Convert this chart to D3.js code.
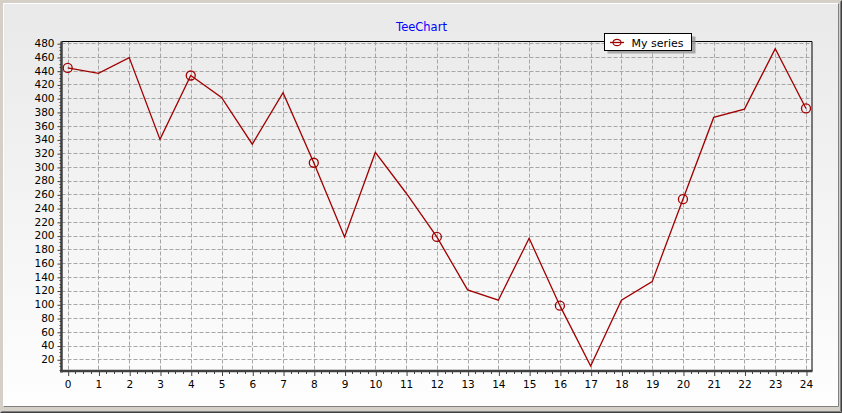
<!DOCTYPE html>
<html><head><meta charset="utf-8">
<script src="https://cdn.jsdelivr.net/npm/d3@7"></script>
<style>html,body{margin:0;padding:0;background:#d4d0c8;}svg{display:block;}</style>
</head><body>
<script>
const categories = d3.range(0, 25);
const values = [444, 436, 459, 340, 433, 401, 333, 408, 306, 198, 321, 262, 198, 121, 106, 196, 98, 10, 106, 133, 253, 372, 384, 472, 385];
const yTicks = d3.range(20, 481, 20);
const seriesName = "My series";
const title = "TeeChart";

const W = 842, H = 413;
const plot = {left: 61.5, right: 812, top: 41.5, bottom: 371};
const svg = d3.select("body").append("svg").attr("width", W).attr("height", H);
const defs = svg.append("defs");
const g1 = defs.append("linearGradient").attr("id","bg").attr("x1",0).attr("y1",0).attr("x2",0).attr("y2",1);
g1.append("stop").attr("offset","0%").attr("stop-color","#e9e9e9");
g1.append("stop").attr("offset","100%").attr("stop-color","#fefefe");

// frame
svg.append("rect").attr("width",W).attr("height",H).attr("fill","#d4d0c8");
svg.append("rect").attr("x",3).attr("y",3).attr("width",836).attr("height",404).attr("fill","url(#bg)");
svg.append("path").attr("d","M3.5,406.5V3.5H838.5").attr("fill","none").attr("stroke","#ffffff");
svg.append("path").attr("d","M3.5,406.5H838.5V3.5").attr("fill","none").attr("stroke","#808080");
svg.append("path").attr("d","M0.5,412.5H841.5V0.5").attr("fill","none").attr("stroke","#404040");
svg.append("path").attr("d","M1.5,411.5H840.5V1.5").attr("fill","none").attr("stroke","#808080");

const x = d3.scaleLinear().domain([0, 24]).range([67.7, 806]);
const y = d3.scaleLinear().domain([0, 480]).range([373, 43.2]);

// grid
const grid = svg.append("g").attr("stroke","#a6a6a6").attr("stroke-dasharray","4,2").attr("stroke-width",1);
categories.forEach(c => {
  const px = Math.round(x(c)) + 0.5;
  grid.append("line").attr("x1",px).attr("x2",px).attr("y1",plot.top).attr("y2",plot.bottom);
});
yTicks.forEach(t => {
  const py = Math.round(y(t)) + 0.5;
  grid.append("line").attr("x1",plot.left).attr("x2",plot.right).attr("y1",py).attr("y2",py);
});

// top/right borders
svg.append("path").attr("d",`M${plot.left},${plot.top}H${plot.right}V${plot.bottom}`).attr("fill","none").attr("stroke","#000").attr("stroke-width",1);

// minor ticks
const minor = svg.append("g").attr("stroke","#404040").attr("stroke-width",1);
for (let c = 0; c < 24; c++) {
  for (let k = 1; k < 4; k++) {
    const px = Math.round(x(c + k/4)) + 0.5;
    minor.append("line").attr("x1",px).attr("x2",px).attr("y1",plot.bottom).attr("y2",plot.bottom+3);
  }
}
for (let v = 5; v < 480; v += 5) {
  if (v % 20 === 0) continue;
  const py = Math.round(y(v)) + 0.5;
  if (py < plot.top || py > plot.bottom) continue;
  minor.append("line").attr("x1",plot.left-2).attr("x2",plot.left).attr("y1",py).attr("y2",py);
}

// axes
const font = "DejaVu Sans, Verdana, sans-serif";
const yAxis = svg.append("g").attr("transform",`translate(${plot.left},0)`)
  .call(d3.axisLeft(y).tickValues(yTicks).tickSize(4).tickPadding(3).tickSizeOuter(0));
yAxis.select(".domain").remove();
yAxis.selectAll(".tick line").attr("stroke","#404040").attr("transform","translate(0,0.5)");
yAxis.selectAll(".tick text").attr("font-family",font).attr("font-size","10.5px").attr("fill","#000");

const xAxis = svg.append("g").attr("transform",`translate(0,${plot.bottom})`)
  .call(d3.axisBottom(x).tickValues(categories).tickFormat(d3.format("d")).tickSize(5).tickPadding(5).tickSizeOuter(0));
xAxis.select(".domain").remove();
xAxis.selectAll(".tick line").attr("stroke","#404040").attr("transform","translate(0.5,0)");
xAxis.selectAll(".tick text").attr("font-family",font).attr("font-size","10.5px").attr("fill","#000");

svg.append("line").attr("x1",plot.left).attr("x2",plot.left).attr("y1",plot.top).attr("y2",plot.bottom+1.5)
  .attr("stroke","#404040").attr("stroke-width",2.5);
svg.append("line").attr("x1",plot.left-1.2).attr("x2",plot.right+0.5).attr("y1",plot.bottom).attr("y2",plot.bottom)
  .attr("stroke","#404040").attr("stroke-width",2.5);

// series
const red = "#a00000";
const line = d3.line().x((d,i) => x(categories[i])).y(d => y(d));
svg.append("path").datum(values).attr("d", line).attr("fill","none").attr("stroke",red).attr("stroke-width",1.3);
svg.append("g").selectAll("circle").data(values.map((v,i)=>({v,i})).filter(d => d.i % 4 === 0))
  .join("circle").attr("cx", d => x(categories[d.i])).attr("cy", d => y(d.v)).attr("r",4.5)
  .attr("fill","none").attr("stroke",red).attr("stroke-width",1.3);

// title
svg.append("text").attr("x",421.5).attr("y",31).attr("text-anchor","middle").attr("font-family",font)
  .attr("font-size","11.5px").attr("fill","#0000ff").text(title);

// legend
const lg = svg.append("g");
lg.append("rect").attr("x",607.5).attr("y",36.5).attr("width",88).attr("height",17).attr("fill","#8a8a8a").attr("opacity",0.7);
lg.append("rect").attr("x",604.5).attr("y",33.5).attr("width",87).attr("height",17).attr("fill","#fff").attr("stroke","#000");
lg.append("line").attr("x1",610).attr("x2",624).attr("y1",42.5).attr("y2",42.5).attr("stroke",red).attr("stroke-width",1.3);
lg.append("ellipse").attr("cx",617).attr("cy",42.5).attr("rx",4).attr("ry",3.2).attr("fill","none").attr("stroke",red).attr("stroke-width",1.2);
lg.append("text").attr("x",631.5).attr("y",46.5).attr("font-family",font).attr("font-size","11px").attr("fill","#000").text(seriesName);
</script>
</body></html>
